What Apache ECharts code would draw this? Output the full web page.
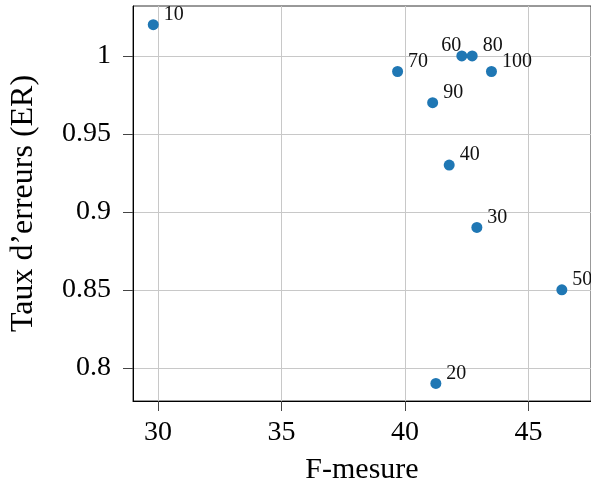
<!DOCTYPE html>
<html>
<head>
<meta charset="utf-8">
<script src="https://cdn.jsdelivr.net/npm/echarts@6/dist/echarts.min.js"></script>
<style>html,body{margin:0;padding:0;background:#fff}#c{width:591px;height:491px}</style>
</head>
<body>
<div id="c"></div>
<script>
const pointLabels = ['10','20','30','40','50','60','70','80','90','100'];
const fMeasure = [29.81, 41.25, 42.91, 41.79, 46.35, 42.30, 39.70, 42.72, 41.12, 43.50];
const errorRate = [1.02, 0.79, 0.89, 0.93, 0.85, 1.00, 0.99, 1.00, 0.97, 0.99];
const xTicks = [30, 35, 40, 45];
const yTicks = [0.8, 0.85, 0.9, 0.95, 1];

const FONT = '"Liberation Serif", "DejaVu Serif", serif';
const chart = echarts.init(document.getElementById('c'), null, {renderer: 'canvas'});

const data = pointLabels.map((l, i) => {
  const item = {value: [fMeasure[i], errorRate[i], l]};
  if (l === '60') {
    item.label = {position: 'left', offset: [10, -10]};
  }
  return item;
});

chart.setOption({
  animation: false,
  grid: {left: 132, right: 0, top: 6, bottom: 90, show: true, borderColor: '#333', borderWidth: 1, backgroundColor: 'transparent'},
  xAxis: {
    type: 'value', min: 28.99, max: 47.53,
    name: 'F-mesure', nameLocation: 'middle', nameGap: 54,
    nameTextStyle: {fontFamily: FONT, fontSize: 30, color: '#000'},
    axisLine: {show: true, onZero: false, lineStyle: {color: '#000', width: 1}},
    axisTick: {show: true, customValues: xTicks, length: 10, inside: false, lineStyle: {color: '#444', width: 1}},
    axisLabel: {customValues: xTicks, fontFamily: FONT, fontSize: 28, color: '#000', margin: 18},
    splitLine: {show: true, lineStyle: {color: '#c8c8c8', width: 1}}
  },
  yAxis: {
    type: 'value', min: 0.7787, max: 1.032,
    name: "Taux d\u2019erreurs (ER)", nameLocation: 'middle', nameGap: 93,
    nameTextStyle: {fontFamily: FONT, fontSize: 32, color: '#000'},
    axisLine: {show: true, onZero: false, lineStyle: {color: '#000', width: 1}},
    axisTick: {show: true, customValues: yTicks, length: 10, lineStyle: {color: '#444', width: 1}},
    axisLabel: {customValues: yTicks, fontFamily: FONT, fontSize: 28, color: '#000', margin: 22,
      formatter: v => String(+v.toFixed(2))},
    splitLine: {show: true, lineStyle: {color: '#c8c8c8', width: 1}}
  },
  series: [{
    type: 'scatter',
    symbolSize: 11,
    itemStyle: {color: '#1f77b4', opacity: 1},
    data: data,
    label: {
      show: true, position: 'right', offset: [0, -10],
      formatter: p => p.value[2],
      fontFamily: FONT, fontSize: 20, color: '#111'
    }
  }]
});
</script>
</body>
</html>
